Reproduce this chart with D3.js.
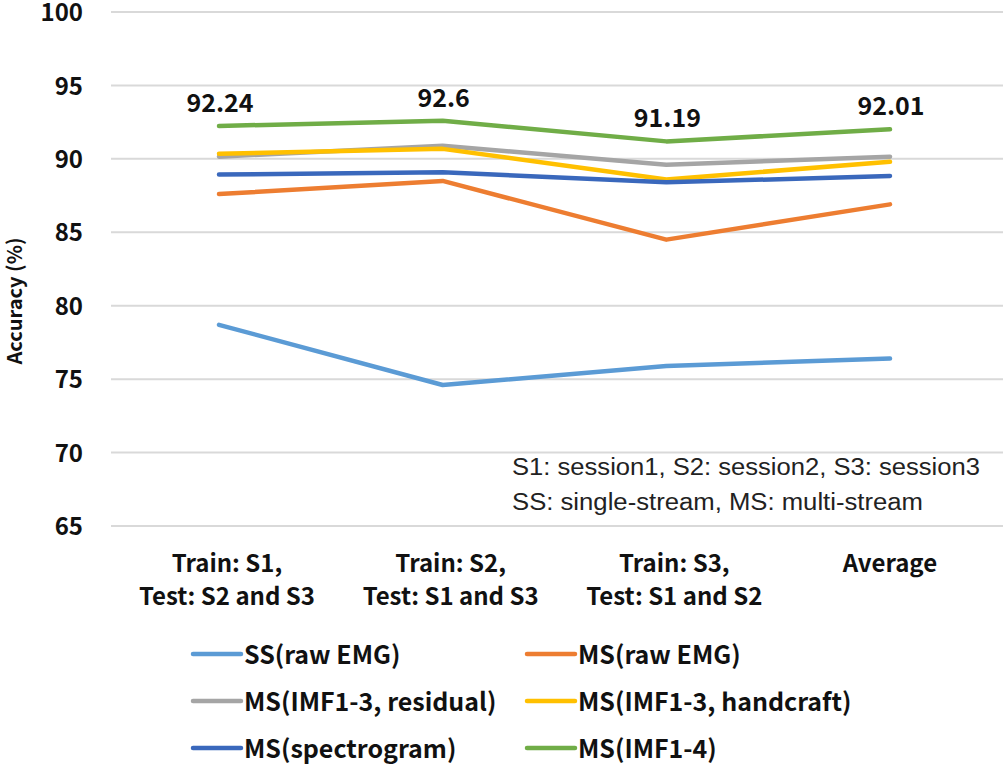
<!DOCTYPE html>
<html><head><meta charset="utf-8">
<script src="https://cdn.jsdelivr.net/npm/d3@7"></script>
<style>
html,body{margin:0;padding:0;background:#fff;}
svg{display:block;}
.b{font-family:"Noto Sans CJK KR","Noto Sans",sans-serif;font-weight:700;fill:#111;}
.r{font-family:"Liberation Sans",Arial,sans-serif;fill:#222;}
</style></head>
<body>
<svg id="c" width="1005" height="769"></svg>
<script>
const categories = [["Train: S1,","Test: S2 and S3"],["Train: S2,","Test: S1 and S3"],["Train: S3,","Test: S1 and S2"],["Average"]];
const seriesNames = ["SS(raw EMG)","MS(raw EMG)","MS(IMF1-3, residual)","MS(IMF1-3, handcraft)","MS(spectrogram)","MS(IMF1-4)"];
const ssRaw      = [78.7, 74.6, 75.9, 76.4];
const msRaw      = [87.6, 88.5, 84.5, 86.9];
const msResidual = [90.15, 90.9, 89.6, 90.15];
const msHand     = [90.35, 90.68, 88.6, 89.8];
const msSpec     = [88.93, 89.09, 88.4, 88.83];
const msImf4     = [92.24, 92.6, 91.19, 92.01];
const labels     = ["92.24","92.6","91.19","92.01"];
const yTicks     = [65,70,75,80,85,90,95,100];
const colors     = ["#5B9BD5","#ED7D31","#A5A5A5","#FFC000","#3A68BC","#70AD47"];
const notes      = ["S1: session1, S2: session2, S3: session3","SS: single-stream, MS: multi-stream"];

const series = [ssRaw,msRaw,msResidual,msHand,msSpec,msImf4];
const svg = d3.select("#c");
const x = d3.scalePoint().domain(d3.range(categories.length)).range([219,890]);
const y = d3.scaleLinear().domain([65,100]).range([526,12]);

// grid
svg.append("g").selectAll("line").data(yTicks).join("line")
  .attr("x1",111).attr("x2",1003)
  .attr("y1",d=>y(d)).attr("y2",d=>y(d))
  .attr("stroke","#d9d9d9").attr("stroke-width",2);

// y axis labels
const yAxis = d3.axisLeft(y).tickValues(yTicks).tickSize(0).tickPadding(0);
const ya = svg.append("g").attr("transform","translate(83,0)").call(yAxis);
ya.select(".domain").remove();
ya.selectAll("text").attr("class","b").style("font-size","24px").attr("dy","0.36em");

// y title
svg.append("text").attr("class","b").attr("transform","translate(22,301) rotate(-90)")
  .attr("text-anchor","middle").style("font-size","20px").text("Accuracy (%)");

// x labels
const xg = svg.append("g");
categories.forEach((c,i)=>{
  c.forEach((t,j)=>{
    xg.append("text").attr("class","b").attr("x",x(i)+ (c.length>1?8:0)).attr("y",572+j*33)
      .attr("text-anchor","middle").style("font-size","24px").text(t);
  });
});

// notes
const noteW = [468, 411];
notes.forEach((t,i)=>{
  svg.append("text").attr("class","r").attr("x",512).attr("y",475+i*35)
    .style("font-size","23px").attr("textLength",noteW[i]).attr("lengthAdjust","spacingAndGlyphs").text(t);
});

// lines
const line = d3.line().x((d,i)=>x(i)).y(d=>y(d));
svg.append("g").selectAll("path").data(series).join("path")
  .attr("d",line).attr("fill","none")
  .attr("stroke",(d,i)=>colors[i]).attr("stroke-width",4.5)
  .attr("stroke-linecap","round").attr("stroke-linejoin","round");

// data labels
svg.append("g").selectAll("text").data(msImf4).join("text")
  .attr("class","b").attr("x",(d,i)=>x(i)+1).attr("y",d=>y(d)-14)
  .attr("text-anchor","middle").style("font-size","25px").text((d,i)=>labels[i]);

// legend
const legX = [193,527], legY = [654,701,748];
seriesNames.forEach((n,i)=>{
  const cx = legX[i%2], cy = legY[Math.floor(i/2)];
  svg.append("line").attr("x1",cx).attr("x2",cx+48).attr("y1",cy).attr("y2",cy)
    .attr("stroke",colors[i]).attr("stroke-width",4.5).attr("stroke-linecap","round");
  svg.append("text").attr("class","b").attr("x",cx+51).attr("y",cy).attr("dy","0.4em")
    .style("font-size","25px").text(n);
});
</script>
</body></html>
